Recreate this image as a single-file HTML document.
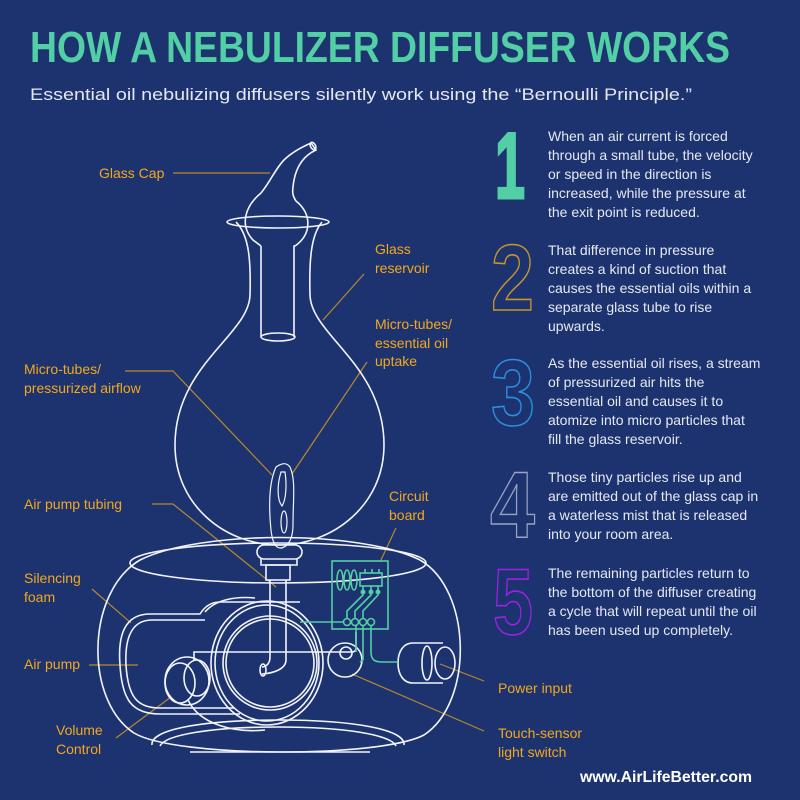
<!DOCTYPE html>
<html><head><meta charset="utf-8"><style>
html,body{margin:0;padding:0;background:#1d3370;}
svg{display:block}
</style></head><body>
<svg width="800" height="800" viewBox="0 0 800 800" xmlns="http://www.w3.org/2000/svg" font-family="'Liberation Sans', sans-serif">
<rect width="800" height="800" fill="#1d3370"/>
<text x="30" y="62" font-size="44" font-weight="bold" fill="#52cfa5" textLength="700" lengthAdjust="spacingAndGlyphs">HOW A NEBULIZER DIFFUSER WORKS</text>
<text x="30" y="100" font-size="17" fill="#e4e7f0" textLength="662" lengthAdjust="spacingAndGlyphs">Essential oil nebulizing diffusers silently work using the “Bernoulli Principle.”</text>

<!-- numbers -->
<text x="495" y="198" font-size="94" font-weight="bold" fill="#52cfa5" stroke="#52cfa5" stroke-width="3" textLength="30" lengthAdjust="spacingAndGlyphs">1</text>
<text x="491" y="310" font-size="94" font-weight="bold" fill="none" stroke="#c7952a" stroke-width="1.6" textLength="43" lengthAdjust="spacingAndGlyphs">2</text>
<text x="491" y="425" font-size="94" font-weight="bold" fill="none" stroke="#2a8fe0" stroke-width="1.6" textLength="44" lengthAdjust="spacingAndGlyphs">3</text>
<text x="490" y="537" font-size="94" font-weight="bold" fill="none" stroke="#9aa3bf" stroke-width="1.4" textLength="45" lengthAdjust="spacingAndGlyphs">4</text>
<text x="493" y="634" font-size="94" font-weight="bold" fill="none" stroke="#a020e8" stroke-width="1.6" textLength="40" lengthAdjust="spacingAndGlyphs">5</text>

<g font-size="14" fill="#e6e8f0">
<text x="548" y="141">When an air current is forced</text>
<text x="548" y="160">through a small tube, the velocity</text>
<text x="548" y="179">or speed in the direction is</text>
<text x="548" y="198">increased, while the pressure at</text>
<text x="548" y="217">the exit point is reduced.</text>
<text x="548" y="255">That difference in pressure</text>
<text x="548" y="274">creates a kind of suction that</text>
<text x="548" y="293">causes the essential oils within a</text>
<text x="548" y="312">separate glass tube to rise</text>
<text x="548" y="331">upwards.</text>
<text x="548" y="368">As the essential oil rises, a stream</text>
<text x="548" y="387">of pressurized air hits the</text>
<text x="548" y="406">essential oil and causes it to</text>
<text x="548" y="425">atomize into micro particles that</text>
<text x="548" y="444">fill the glass reservoir.</text>
<text x="548" y="482">Those tiny particles rise up and</text>
<text x="548" y="501">are emitted out of the glass cap in</text>
<text x="548" y="520">a waterless mist that is released</text>
<text x="548" y="539">into your room area.</text>
<text x="548" y="578">The remaining particles return to</text>
<text x="548" y="597">the bottom of the diffuser creating</text>
<text x="548" y="616">a cycle that will repeat until the oil</text>
<text x="548" y="635">has been used up completely.</text>
</g>

<!-- labels -->
<g font-size="14" fill="#f2a81d">
<text x="99" y="178">Glass Cap</text>
<text x="375" y="254">Glass</text><text x="375" y="273">reservoir</text>
<text x="375" y="329">Micro-tubes/</text><text x="375" y="348">essential oil</text><text x="375" y="366">uptake</text>
<text x="24" y="374">Micro-tubes/</text><text x="24" y="393">pressurized airflow</text>
<text x="24" y="509">Air pump tubing</text>
<text x="389" y="501">Circuit</text><text x="389" y="520">board</text>
<text x="24" y="583">Silencing</text><text x="24" y="602">foam</text>
<text x="24" y="669">Air pump</text>
<text x="56" y="735">Volume</text><text x="56" y="754">Control</text>
<text x="498" y="693">Power input</text>
<text x="498" y="738">Touch-sensor</text><text x="498" y="757">light switch</text>
</g>
<text x="580" y="782" font-size="16" font-weight="bold" fill="#ffffff" textLength="172" lengthAdjust="spacingAndGlyphs">www.AirLifeBetter.com</text>

<!-- leader lines -->
<g stroke="#b8892a" stroke-width="1.2" fill="none">
<path d="M173,173 L270,173"/>
<path d="M364,274 L323,320"/>
<path d="M367,362 L292,474"/>
<path d="M125,371 L173,371 L272,475"/>
<path d="M152,504 L173,504 L276,587"/>
<path d="M396,528 L380,562"/>
<path d="M92,589 L131,623"/>
<path d="M89,665 L138,665"/>
<path d="M116,738 L171,697"/>
<path d="M440,664 L484,681"/>
<path d="M352,674 L484,731"/>
</g>

<!-- glass -->
<g stroke="#f2f4fa" stroke-width="1.6" fill="none">
<path d="M236,222 C249,235 251,260 250,295 C249,335 175,365 175,445 C175,505 225,545 279,545 C333,545 384,505 384,445 C384,365 311,335 310,295 C309,260 311,235 322,222"/>
<ellipse cx="278" cy="222" rx="51" ry="6"/>
<path d="M261,246 L253,240 C240,226 244,207 261,193 C270,182 276,168 284,160 C292,152 302,147 311,143 L316,150 C305,155 297,165 294,180 C292,192 292,195 296,201 C312,214 312,234 295,246 L294,246 L294,337 M261,246 L261,337"/>
<ellipse cx="313" cy="146" rx="2.5" ry="4" transform="rotate(-30 313 146)"/>
<ellipse cx="278" cy="337" rx="17" ry="4"/>
<!-- flame / micro tubes -->
<path d="M276,467 C270,480 268,500 271,530 C272,540 275,548 280,548 C287,548 293,540 293,525 C293,500 296,480 290,467 C287,463 283,462 276,467Z" stroke-width="1.2"/>
<path d="M281,472 C277,485 277,500 282,506 C286,500 287,485 285,472Z" stroke-width="1.2"/>
<ellipse cx="284" cy="522" rx="3" ry="11" stroke-width="1.2"/>
<rect x="257" y="545" width="45" height="14" rx="7"/>
<path d="M261,559 L261,565 L297,565 L297,559"/>
<rect x="266" y="565" width="24" height="15"/>
<path d="M270,580 L270,657 C270,667 262,667 262,667 M286,580 L286,660 C286,668 276,673 262,674"/>
<ellipse cx="263" cy="670" rx="3" ry="6"/>
<!-- base -->
<path d="M140,560 C200,530 360,530 420,560 C472,590 474,702 424,735 C380,758 176,758 134,733 C84,700 86,592 140,560Z"/>
<ellipse cx="278" cy="563" rx="148" ry="20"/>
<path d="M152,745 C150,730 200,720 278,720 C356,720 406,730 404,745"/>
<path d="M160,746 C165,735 210,727 278,727 C346,727 391,735 396,746"/>
<path d="M190,752 L370,752"/>
<!-- silencing foam box -->
<path d="M150,614 L200,614 C205,606 212,602 220,602 L300,602 M150,614 C122,614 118,640 120,665 C122,700 132,714 160,714 L240,714"/>
<path d="M152,620 L205,620 M152,620 C128,620 125,645 126,665 C128,698 138,708 160,708 L235,708"/>
<!-- pump circles -->
<ellipse cx="267" cy="663" rx="56" ry="62"/>
<ellipse cx="267" cy="663" rx="52" ry="58"/>
<circle cx="270" cy="663" r="47"/>
<circle cx="270" cy="663" r="44"/>
<path d="M205,612 C215,600 235,596 255,598"/>
<path d="M188,700 C200,725 235,733 265,730"/>
<!-- air pump line -->
<path d="M194,660 L194,652 L352,652 C355,652 356,650 356,648 L356,632"/>
<!-- volume knob -->
<ellipse cx="180" cy="683" rx="15" ry="20"/>
<ellipse cx="187" cy="681" rx="22" ry="24"/>
<ellipse cx="197" cy="678" rx="13" ry="18"/>
<!-- touch sensor -->
<circle cx="345" cy="660" r="17"/>
<circle cx="346" cy="653" r="6"/>
<!-- power plug -->
<path d="M443,643 L413,643 C403,643 398,652 398,663 C398,674 403,683 413,683 L443,683"/>
<ellipse cx="445" cy="663" rx="10" ry="16"/>
<ellipse cx="427" cy="663" rx="5" ry="17"/>
</g>

<!-- circuit board -->
<g stroke="#52cfa5" stroke-width="1.6" fill="none">
<rect x="332" y="561" width="56" height="68"/>
<ellipse cx="340" cy="580" rx="3" ry="10"/>
<ellipse cx="347" cy="580" rx="3" ry="10"/>
<ellipse cx="354" cy="580" rx="3" ry="10"/>
<rect x="360" y="573" width="22" height="13"/>
<path d="M365,569 L365,573 M372,569 L372,573 M379,569 L379,573"/>
<circle cx="347" cy="622" r="3.5"/><circle cx="355" cy="622" r="3.5"/><circle cx="363" cy="622" r="3.5"/><circle cx="371" cy="622" r="3.5"/>
<path d="M363,586 L363,595 L347,611 L347,618 M371,586 L371,595 L355,611 L355,618 M378,586 L378,595 L363,611 L363,618"/>
<path d="M300,622 L343,622"/>
<path d="M356,626 L356,652 M363,626 L363,660 L360,662 M371,626 L371,652 C371,660 375,662 382,662 L398,662"/>
</g>
<g fill="#52cfa5"><circle cx="363" cy="592" r="2.5"/><circle cx="371" cy="592" r="2.5"/><circle cx="378" cy="592" r="2.5"/></g>
</svg>
</body></html>
